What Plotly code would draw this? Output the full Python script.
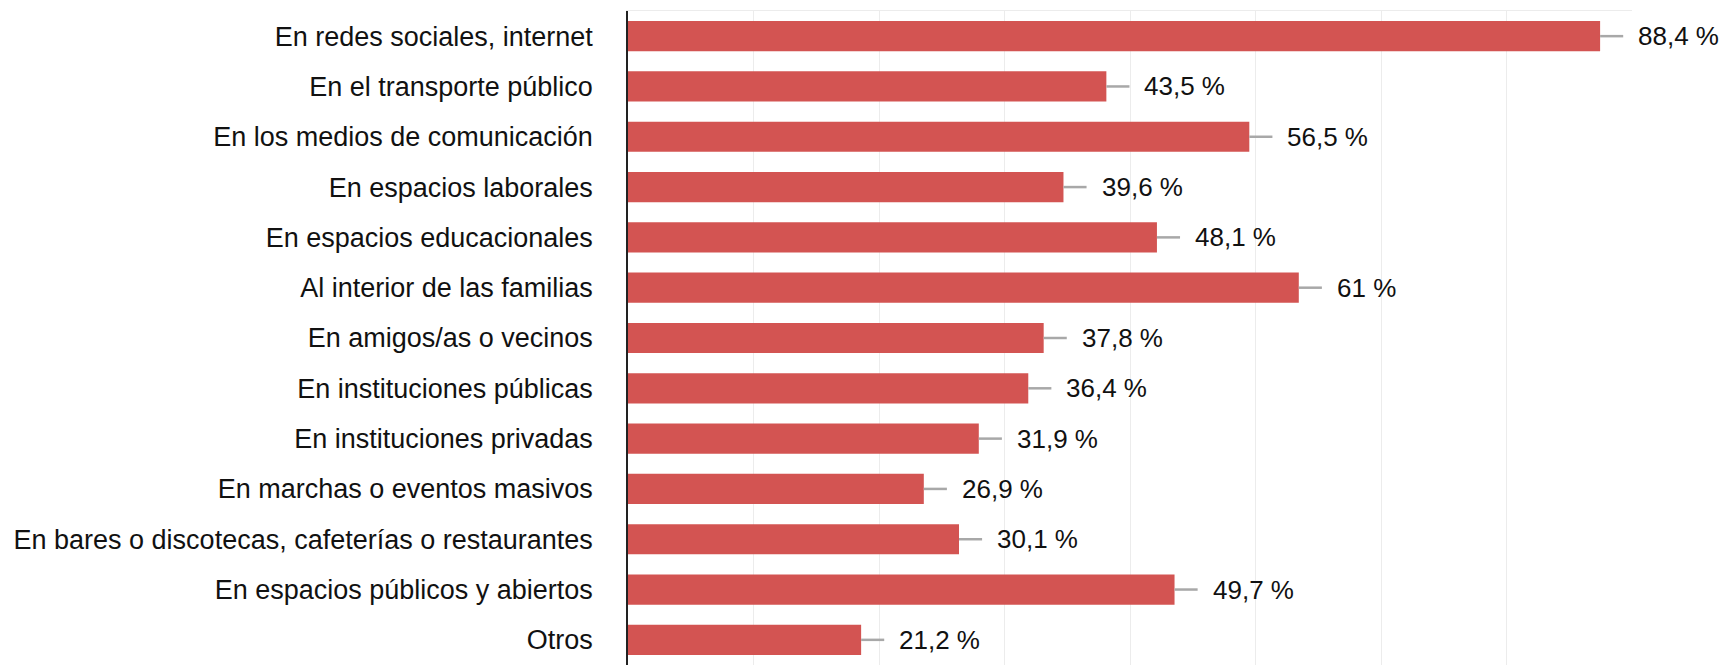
import plotly.graph_objects as go

categories = [
    "En redes sociales, internet",
    "En el transporte público",
    "En los medios de comunicación",
    "En espacios laborales",
    "En espacios educacionales",
    "Al interior de las familias",
    "En amigos/as o vecinos",
    "En instituciones públicas",
    "En instituciones privadas",
    "En marchas o eventos masivos",
    "En bares o discotecas, cafeterías o restaurantes",
    "En espacios públicos y abiertos",
    "Otros",
]
values = [88.4, 43.5, 56.5, 39.6, 48.1, 61.0, 37.8, 36.4, 31.9, 26.9, 30.1, 49.7, 21.2]
labels = ["88,4 %", "43,5 %", "56,5 %", "39,6 %", "48,1 %", "61 %", "37,8 %",
          "36,4 %", "31,9 %", "26,9 %", "30,1 %", "49,7 %", "21,2 %"]
errors = [2.1] * len(values)

FONT = "Arial, 'Liberation Sans', sans-serif"
XMAX = 91.3

fig = go.Figure()
fig.add_trace(go.Bar(
    y=categories, x=values, orientation="h",
    marker=dict(color="#d35452", line=dict(width=0)),
    error_x=dict(type="data", symmetric=False, array=errors,
                 arrayminus=[0] * len(values), width=0, thickness=2.5,
                 color="#a8a8a8"),
    hoverinfo="skip",
))

for c, v, e, t in zip(categories, values, errors, labels):
    fig.add_annotation(x=v + e, y=c, text=t, showarrow=False, xanchor="left",
                       xshift=13, font=dict(family=FONT, size=26, color="#111111"))

fig.update_layout(
    width=1719, height=661,
    margin=dict(l=620, r=95, t=3, b=4),
    plot_bgcolor="white", paper_bgcolor="white",
    bargap=0.40,
    showlegend=False,
    xaxis=dict(range=[0, XMAX], tickvals=[XMAX * i / 8 for i in range(1, 8)],
               showticklabels=False, showgrid=True, gridcolor="#ececec",
               gridwidth=1, zeroline=False, showline=True, linecolor="#ececec",
               side="top", ticks=""),
    yaxis=dict(autorange="reversed", showline=True, linecolor="#222222",
               linewidth=1.5, ticks="", ticklabelstandoff=28,
               tickfont=dict(family=FONT, size=27, color="#111111"),
               showgrid=False),
)

fig.write_html("out.html")
